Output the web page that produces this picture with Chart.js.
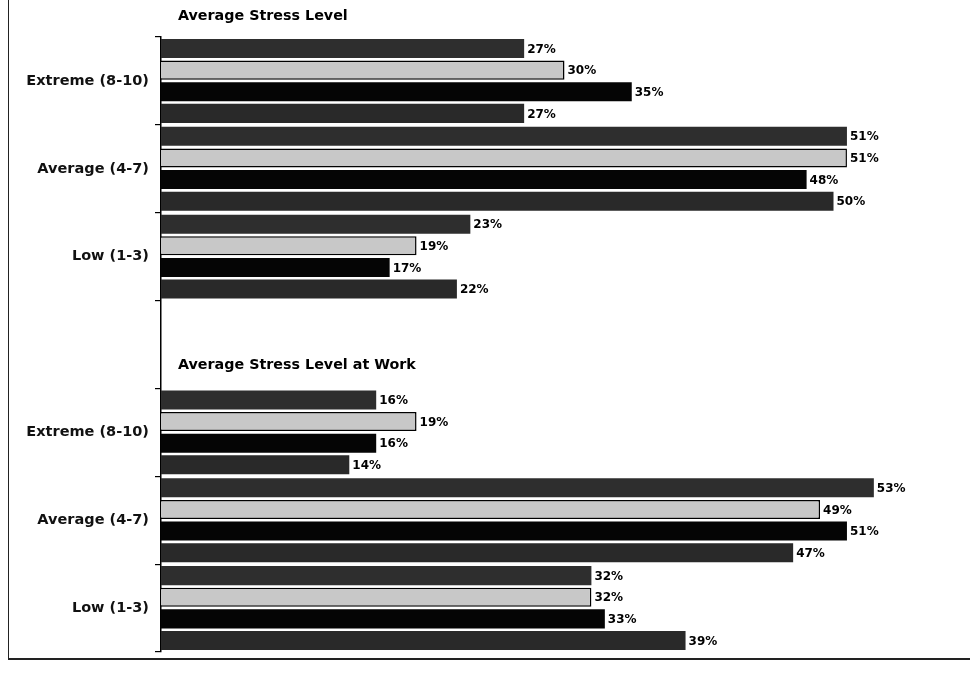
<!DOCTYPE html>
<html>
<head>
<meta charset="utf-8">
<script src="https://cdn.jsdelivr.net/npm/chart.js@4"></script>
<style>
  body { margin: 0; background: #fff; }
  #wrap { position: relative; width: 970px; height: 673px; overflow: hidden; }
  #frame { position: absolute; left: 8px; top: -4px; width: 970px; height: 662px;
           border-left: 1.5px solid #222; border-bottom: 2px solid #222; }
  #myChart { position: absolute; left: 0; top: 0; }
</style>
</head>
<body>
<div id="wrap">
  <div id="frame"></div>
  <canvas id="myChart" width="970" height="673"></canvas>
</div>
<script>
// category labels (same three for both panels)
const levels = ["Extreme (8-10)", "Average (4-7)", "Low (1-3)"];
const panelTitles = ["Average Stress Level", "Average Stress Level at Work"];

// overall stress, four groups
const overall1 = [27, 51, 23];
const overall2 = [30, 51, 19];
const overall3 = [35, 48, 17];
const overall4 = [27, 50, 22];

// stress at work, four groups
const work1 = [16, 53, 32];
const work2 = [19, 49, 32];
const work3 = [16, 51, 33];
const work4 = [14, 47, 39];

const barColors = ["#2e2e2e", "#c8c8c8", "#050505", "#292929"];

// one axis, blank slot between the two panels
const labels = [...levels, "", ...levels];
const join = (a, b) => [...a, null, ...b];
const series = [
  join(overall1, work1),
  join(overall2, work2),
  join(overall3, work3),
  join(overall4, work4),
];

const fam = '"DejaVu Sans", Arial, sans-serif';

const valueLabels = {
  id: "valueLabels",
  afterDatasetsDraw(chart) {
    const ctx = chart.ctx;
    ctx.save();
    ctx.font = "bold 12px " + fam;
    ctx.textBaseline = "middle";
    ctx.textAlign = "left";
    chart.data.datasets.forEach((ds, i) => {
      chart.getDatasetMeta(i).data.forEach((bar, j) => {
        const v = ds.data[j];
        if (v == null) return;
        const t = v + "%";
        const w = ctx.measureText(t).width;
        ctx.fillStyle = "#fff";
        ctx.fillRect(bar.x + 1, bar.y - 8, w + 4, 16);
        ctx.fillStyle = "#000";
        ctx.fillText(t, bar.x + 3, bar.y + 1);
      });
    });
    // panel titles
    const y = chart.scales.y;
    ctx.font = "bold 14.3px " + fam;
    ctx.fillText(panelTitles[0], chart.chartArea.left + 17, chart.chartArea.top - 21);
    ctx.fillText(panelTitles[1], chart.chartArea.left + 17, y.getPixelForValue(3) + 21);
    ctx.restore();
  },
};

const ctx = document.getElementById("myChart");

new Chart(ctx, {
  type: "bar",
  data: {
    labels: labels,
    datasets: series.map((d, i) => ({
      data: d,
      backgroundColor: barColors[i],
      borderColor: "#000",
      borderWidth: i == 1 ? 1.5 : 0,
      categoryPercentage: 0.985,
      barPercentage: 0.88,
    })),
  },
  options: {
    indexAxis: "y",
    responsive: false,
    animation: false,
    layout: { padding: { top: 37, bottom: 21, left: 0, right: 2 } },
    plugins: {
      legend: { display: false },
      tooltip: { enabled: false },
    },
    scales: {
      x: { display: false, min: 0, max: 60 },
      y: {
        afterFit(scale) { scale.width = 161; },
        border: { display: true, color: "#000", width: 1.5 },
        grid: { drawOnChartArea: false, color: "#000", lineWidth: 1.2, tickLength: 6 },
        ticks: {
          color: "#111",
          padding: 6,
          font: { family: fam, size: 14.5, weight: "bold" },
        },
      },
    },
  },
  plugins: [valueLabels],
});
</script>
</body>
</html>
